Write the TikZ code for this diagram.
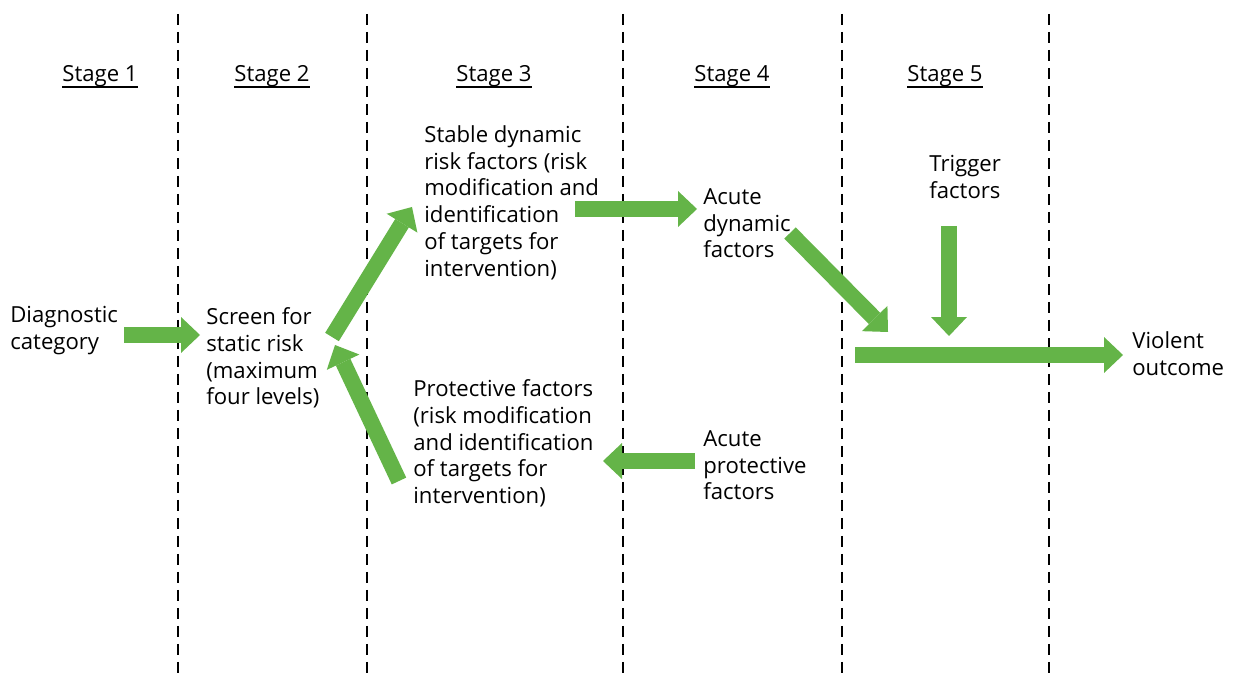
\documentclass[tikz,border=0pt]{standalone}
\usepackage{fontspec}
\setmainfont{Open Sans}
\usetikzlibrary{arrows.meta,calc}
\definecolor{arrowgreen}{RGB}{100,180,72}
\newcommand\stageul[1]{\setbox0\hbox{#1}\rlap{\rule[-3.4pt]{\wd0}{1.1pt}}\box0}
\begin{document}
\begin{tikzpicture}[x=0.02cm,y=-0.02cm,
		every node/.style={font=\fontsize{12.6pt}{15.3pt}\selectfont,inner sep=0pt},
		factor/.style={anchor=north west,align=left},
		stagehead/.style={anchor=base},
		flow/.style={line width=0.32cm,draw=arrowgreen,-{Triangle[length=0.38cm,width=0.72cm,line width=0pt]}},
		divider/.style={line width=0.04cm,dash pattern=on 0.22cm off 0.14cm}]
		\useasboundingbox (0,0) rectangle (1236,678);
		\draw[divider] (178,14)--(178,678);
		\draw[divider] (367,14)--(367,678);
		\draw[divider] (623,14)--(623,678);
		\draw[divider] (842,14)--(842,678);
		\draw[divider] (1049,14)--(1049,678);
		\node[stagehead](st1) at (100,82){\stageul{Stage 1}};
		\node[stagehead](st2) at (272,82){\stageul{Stage 2}};
		\node[stagehead](st3) at (494,82){\stageul{Stage 3}};
		\node[stagehead](st4) at (732,82){\stageul{Stage 4}};
		\node[stagehead](st5) at (945,82){\stageul{Stage 5}};
		\node[factor](diag) at (10,306){Diagnostic\\category};
		\node[factor](screen) at (206,307){Screen for\\static risk\\(maximum\\four levels)};
		\node[factor](stable) at (424,125){Stable dynamic\\risk factors (risk\\modification and\\identification\\of targets for\\intervention)};
		\node[factor](protect) at (413,379){Protective factors\\(risk modification\\and identification\\of targets for\\intervention)};
		\node[factor](acutedyn) at (703,188){Acute\\dynamic\\factors};
		\node[factor](acuteprot) at (703,430){Acute\\protective\\factors};
		\node[factor](trigger) at (929,155){Trigger\\factors};
		\node[factor](violent) at (1132,331){Violent\\outcome};
		\coordinate (merge) at (855,355);
		\draw[flow] ($(diag.north west)+(114,29)$)--($(screen.north west)+(-6,28)$);
		\draw[flow] ($(screen.north west)+(126,30)$)--($(stable.north west)+(-12,82)$);
		\draw[flow] ($(protect.north west)+(-14,102)$)--($(screen.north west)+(129,38)$);
		\draw[flow] ($(stable.north west)+(151,84)$)--($(acutedyn.north west)+(-6,21)$);
		\draw[flow] ($(acuteprot.north west)+(-8,31)$)--($(protect.north west)+(190,82)$);
		\draw[flow] ($(acutedyn.north west)+(87,45)$)--($(merge)+(33,-23)$);
		\draw[flow] ($(trigger.north west)+(20,71)$)--($(merge)+(94,-19)$);
		\draw[flow] (merge)--($(violent.north west)+(-9,24)$);
	\end{tikzpicture}
\end{document}
